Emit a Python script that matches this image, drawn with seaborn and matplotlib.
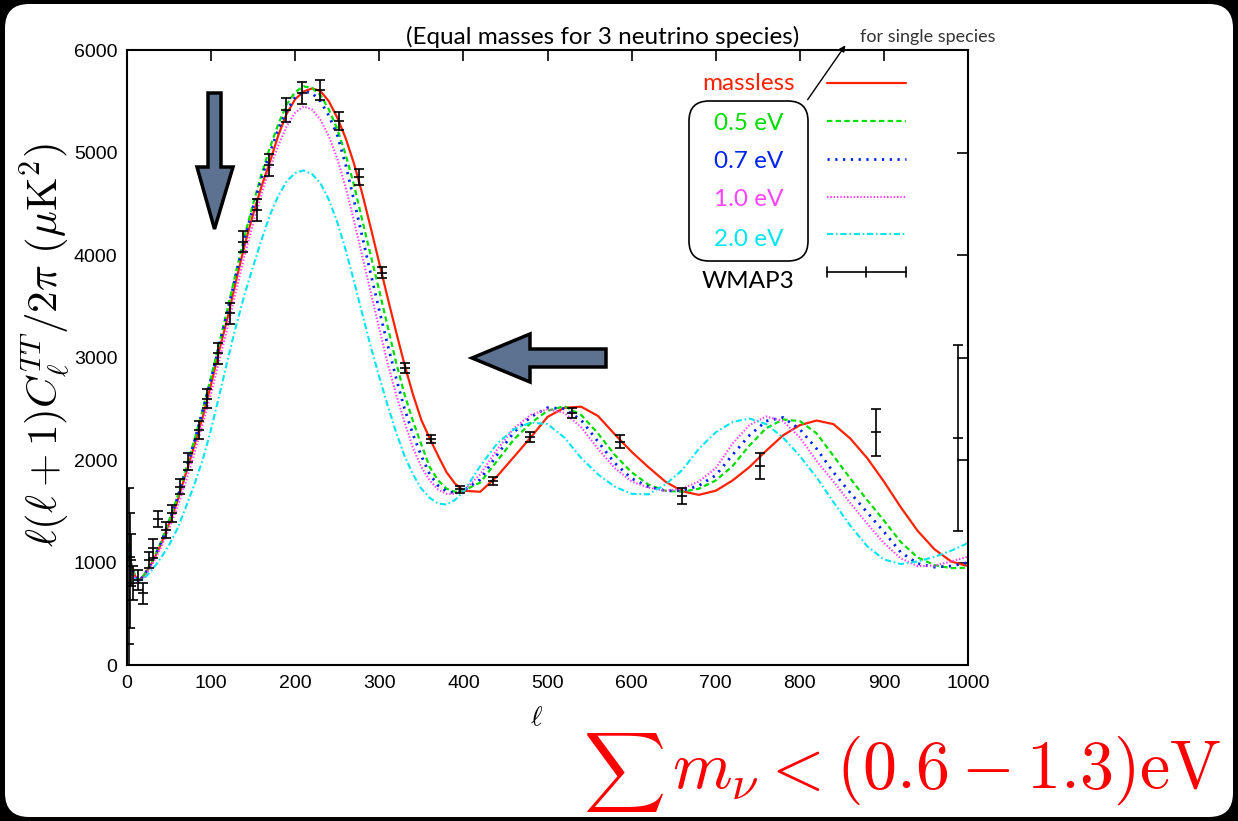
import numpy as np
import pandas as pd
import matplotlib
matplotlib.use("Agg")
import matplotlib.pyplot as plt
import seaborn as sns
from matplotlib.patches import FancyBboxPatch, Polygon

sns.set_theme(style="white")
plt.rcParams['font.family'] = ['Liberation Sans', 'DejaVu Sans']
plt.rcParams['mathtext.fontset'] = 'cm'

# ---------------- data ----------------
ell = [2, 5, 10, 15, 20, 30, 40, 50, 60, 70, 80, 90, 100, 110, 120, 130, 140, 150, 160, 170,
       180, 190, 200, 210, 220, 230, 240, 250, 260, 270, 280, 290, 300, 310, 320, 330, 340, 350,
       360, 370, 380, 390, 400, 420, 440, 460, 480, 500, 520, 540, 560, 580, 600, 620, 640, 660,
       680, 700, 720, 740, 760, 780, 800, 820, 840, 860, 880, 900, 920, 940, 960, 980, 1000]

cl_massless = [1180, 980, 860, 830, 870, 1000, 1170, 1380, 1600, 1870, 2140, 2420, 2740, 3080, 3400, 3760, 4100, 4400, 4670, 4910,
               5170, 5380, 5520, 5595, 5625, 5600, 5500, 5340, 5140, 4890, 4590, 4260, 3920, 3580, 3250, 2930, 2640, 2390,
               2210, 2040, 1880, 1770, 1700, 1690, 1840, 2030, 2220, 2420, 2510, 2520, 2430, 2250, 2080, 1930, 1790, 1695,
               1660, 1700, 1800, 1930, 2090, 2240, 2340, 2385, 2350, 2210, 2020, 1790, 1540, 1310, 1130, 1010, 965]

cl_05 = [1180, 980, 860, 830, 875, 1015, 1190, 1410, 1640, 1910, 2190, 2490, 2810, 3150, 3490, 3850, 4190, 4500, 4790, 5050,
         5280, 5470, 5590, 5645, 5630, 5560, 5420, 5230, 4980, 4680, 4330, 3990, 3650, 3300, 2950, 2640, 2380, 2150,
         1930, 1800, 1720, 1690, 1700, 1780, 1990, 2200, 2360, 2480, 2525, 2440, 2260, 2050, 1880, 1760, 1700, 1690,
         1720, 1800, 1940, 2140, 2310, 2395, 2380, 2260, 2040, 1820, 1610, 1410, 1200, 1050, 975, 945, 950]

cl_07 = [1150, 960, 850, 825, 870, 1010, 1180, 1400, 1630, 1900, 2180, 2480, 2790, 3130, 3470, 3820, 4160, 4470, 4750, 5000,
         5230, 5410, 5540, 5595, 5580, 5500, 5360, 5170, 4880, 4530, 4170, 3810, 3460, 3120, 2800, 2500, 2250, 2040,
         1860, 1750, 1695, 1680, 1700, 1810, 2050, 2270, 2420, 2510, 2500, 2390, 2180, 1970, 1820, 1740, 1700, 1700,
         1750, 1850, 2050, 2240, 2380, 2415, 2300, 2110, 1880, 1680, 1490, 1300, 1100, 990, 955, 965, 1000]

cl_10 = [1150, 950, 840, 815, 850, 980, 1140, 1330, 1540, 1790, 2060, 2350, 2650, 2980, 3310, 3660, 4000, 4310, 4600, 4850,
         5070, 5260, 5390, 5450, 5420, 5320, 5160, 4940, 4660, 4330, 3980, 3630, 3280, 2940, 2640, 2370, 2120, 1930,
         1800, 1710, 1670, 1670, 1700, 1860, 2100, 2310, 2440, 2495, 2460, 2320, 2110, 1920, 1790, 1730, 1700, 1720,
         1790, 1920, 2160, 2340, 2425, 2380, 2220, 1990, 1790, 1580, 1380, 1190, 1040, 965, 970, 1010, 1057]

cl_20 = [1100, 920, 830, 815, 840, 930, 1040, 1170, 1330, 1540, 1760, 2000, 2300, 2640, 2990, 3320, 3620, 3890, 4150, 4390,
         4580, 4720, 4800, 4825, 4790, 4700, 4540, 4320, 4050, 3740, 3420, 3100, 2810, 2530, 2270, 2040, 1860, 1720,
         1630, 1575, 1565, 1610, 1690, 1940, 2160, 2300, 2365, 2350, 2220, 2020, 1860, 1740, 1670, 1665, 1760, 1900,
         2110, 2270, 2370, 2405, 2350, 2220, 2040, 1830, 1590, 1360, 1160, 1030, 985, 1010, 1055, 1115, 1190]

wmap_ell = [2, 3, 5, 7.5, 13, 19, 26.5, 30.5, 37.3, 46.4, 53, 63, 73, 85.6, 95, 108.6, 122.5, 138.3, 154.2,
            168.8, 189, 207.7, 229.5, 252, 276, 302.8, 330.6, 362, 396, 435.6, 479, 528.7, 586, 659.5,
            752.7, 890.6, 988.5]
wmap_cl = [205, 1050, 1024, 800, 829, 700, 1024, 1138, 1424, 1317, 1480, 1740, 1984, 2293, 2600, 3041, 3431, 4130, 4439,
           4878, 5415, 5577, 5610, 5310, 4760, 3828, 2894, 2202, 1714, 1795, 2221, 2455, 2179, 1652,
           1941, 2269, 2218]
wmap_err_lo = [205, 690, 250, 170, 100, 100, 80, 90, 80, 75, 80, 75, 80, 85, 90, 100, 100, 105, 105,
               105, 114, 107, 98, 90, 75, 57, 49, 41, 36, 37, 49, 49, 65, 78,
               124, 232, 908]
wmap_err_hi = [1520, 430, 250, 170, 100, 100, 80, 90, 80, 75, 80, 75, 80, 85, 90, 100, 100, 105, 105,
               105, 114, 107, 98, 90, 75, 57, 49, 41, 36, 37, 49, 49, 65, 78,
               124, 232, 908]

series_names = ["massless", "0.5 eV", "0.7 eV", "1.0 eV", "2.0 eV"]
series_vals = [cl_massless, cl_05, cl_07, cl_10, cl_20]
series_colors = ["#ff2200", "#00dd00", "#0022ee", "#ff44ff", "#00e5ee"]
series_ls = ["-", (0, (2.4, 1.5)), (0, (0.8, 2.0)), (0, (0.7, 0.9)), (0, (3.0, 1.3, 0.8, 1.3))]
series_lw = [1.6, 1.6, 2.0, 1.5, 1.5]

# ---------------- figure ----------------
W, H = 1238, 821
fig = plt.figure(figsize=(W / 100, H / 100), dpi=100, facecolor="black")

bg = fig.add_axes([0, 0, 1, 1], zorder=0)
bg.set_xlim(0, W); bg.set_ylim(H, 0); bg.axis("off")
bg.add_patch(FancyBboxPatch((5, 4), W - 10, H - 8, boxstyle="round,pad=0,rounding_size=24",
                            fc="white", ec="none"))

ax = fig.add_axes([127 / W, 1 - 665 / H, 841 / W, 615 / H], zorder=1)
ax.set_facecolor("white")

df = pd.DataFrame({"ell": ell})
for name, vals in zip(series_names, series_vals):
    df[name] = vals

for name, col, ls, lw in zip(series_names, series_colors, series_ls, series_lw):
    sns.lineplot(data=df, x="ell", y=name, ax=ax, color=col, linewidth=lw,
                 linestyle=ls, legend=False, estimator=None, sort=False)

ax.errorbar(wmap_ell, wmap_cl, yerr=[wmap_err_lo, wmap_err_hi], fmt="_", color="black",
            ms=7, mew=1.2, elinewidth=1.2, capsize=3.5, capthick=1.2, zorder=5)

ax.set_xlim(0, 1000)
ax.set_ylim(0, 6000)
ax.set_xticks(np.arange(0, 1001, 100))
ax.set_yticks(np.arange(0, 6001, 1000))
ax.set_xlabel(""); ax.set_ylabel("")
ax.tick_params(direction="in", length=8, width=1.2, top=True, right=True,
               labelsize=14, pad=7, colors="black")
for s in ax.spines.values():
    s.set_linewidth(1.5)
    s.set_color("black")

# ---------------- overlay annotations ----------------
ov = fig.add_axes([0, 0, 1, 1], zorder=3)
ov.set_xlim(0, W); ov.set_ylim(H, 0); ov.axis("off")
ov.patch.set_alpha(0)

ov.text(603, 37, "(Equal masses for 3 neutrino species)", fontsize=17.5, family=["Lato", "DejaVu Sans"],
        ha="center", va="center", color="black")
ov.text(860, 37, "for single species", fontsize=13, family=["Lato", "DejaVu Sans"],
        ha="left", va="center", color="#333333")
ov.annotate("", xy=(847, 43), xytext=(806, 102),
            arrowprops=dict(arrowstyle="-|>", lw=1.0, color="black", mutation_scale=9))

# legend
leg_txt_y = [83, 124, 162, 200, 240, 282]
leg_line_y = [83, 121, 159, 197, 234]
for name, col, ls, lw, ty, ly in zip(series_names, series_colors, series_ls, series_lw, leg_txt_y, leg_line_y):
    ov.text(749, ty, name, fontsize=17.5, family=["Lato", "DejaVu Sans"], color=col, ha="center", va="center")
    ov.plot([827, 906], [ly, ly], color=col, lw=lw, linestyle=ls)
ov.text(748, leg_txt_y[-1], "WMAP3", fontsize=17.5, family=["Lato", "DejaVu Sans"], color="black",
        ha="center", va="center")
ov.plot([827, 906], [272, 272], color="black", lw=1.2)
for xx in (827, 866, 906):
    ov.plot([xx, xx], [267, 277], color="black", lw=1.2)
ov.add_patch(FancyBboxPatch((689, 101), 119, 160, boxstyle="round,pad=0,rounding_size=20",
                            fc="none", ec="black", lw=1.2))

# big arrows
arrow_fc = "#5d7191"
down = [(208, 93), (221, 93), (221, 167), (233, 167), (214.5, 229), (197, 167), (208, 167)]
ov.add_patch(Polygon(down, closed=True, fc=arrow_fc, ec="black", lw=2.5, joinstyle="miter"))
left = [(606, 349), (606, 367), (530, 367), (530, 382), (472, 358), (530, 334), (530, 349)]
ov.add_patch(Polygon(left, closed=True, fc=arrow_fc, ec="black", lw=2.5, joinstyle="miter"))

# axis labels
fig.text(45 / W, 1 - 345 / H, r"$\ell(\ell+1)C_\ell^{TT}/2\pi\ (\mu{\rm K}^2)$",
         fontsize=31, rotation=90, ha="center", va="center", color="black")
fig.text(537 / W, 1 - 718 / H, r"$\ell$", fontsize=20, ha="center", va="center", color="black")

# red formula
ov.text(583, 772, r"$\sum$", fontsize=41, color="#ff0000", ha="left", va="center")
ov.text(672, 788, r"$m_\nu < (0.6 - 1.3){\rm eV}$", fontsize=49, color="#ff0000",
        ha="left", va="baseline")

fig.savefig("out.png", dpi=100, facecolor="black")
